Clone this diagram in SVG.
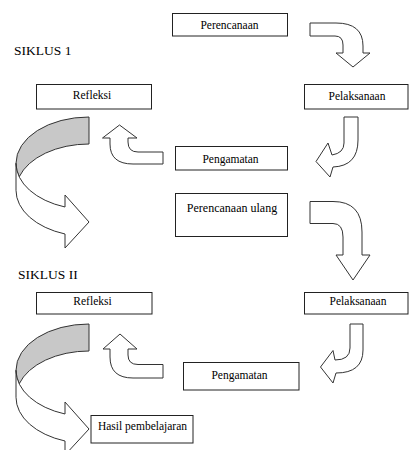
<svg xmlns="http://www.w3.org/2000/svg" width="409" height="450" viewBox="0 0 409 450">
<style>
.box{fill:#fff;stroke:#222;stroke-width:1}
.lbl{font-family:"Liberation Serif","Times New Roman",serif;font-size:11.5px;fill:#000;text-anchor:middle}
.title{font-family:"Liberation Serif","Times New Roman",serif;font-size:13.5px;fill:#000}
.arr{fill:#fff;stroke:#333;stroke-width:1;stroke-linejoin:round}
.back{fill:#c8c8c8;stroke:#333;stroke-width:1;stroke-linejoin:round}
</style>
<defs>
<g id="bigArrow">
<path class="back" d="M89,117 A73,46.3 0 0 0 16,163.3 A73,46.3 0 0 0 19.2,176.8 A73,46.3 0 0 1 89,144 Z"/>
<path class="arr" d="M16,163.3 A73,46.3 0 0 0 65,207 L65,195 L89,222 L65,248 L65,234 A73,46.3 0 0 1 16,190.3 Z"/>
</g>
</defs>
<text class="title" x="14" y="55">SIKLUS 1</text>
<text class="title" x="18" y="279">SIKLUS II</text>
<g id="perencanaan"><rect class="box" x="172.5" y="13.5" width="115" height="22.5"/><text class="lbl" x="229.5" y="28.5">Perencanaan</text></g>
<g id="refleksi1"><rect class="box" x="36.5" y="84.5" width="115" height="24.5"/><text class="lbl" x="92" y="99">Refleksi</text></g>
<g id="pelaksanaan1"><rect class="box" x="304.5" y="84.5" width="103.5" height="24.5"/><text class="lbl" x="357" y="99.5">Pelaksanaan</text></g>
<g id="pengamatan1"><rect class="box" x="175.5" y="146.5" width="112" height="23.5"/><text class="lbl" x="230.5" y="162.5">Pengamatan</text></g>
<g id="perencanaan-ulang"><rect class="box" x="175.5" y="193.5" width="112" height="43"/><text class="lbl" x="232" y="211.5" style="font-size:12px">Perencanaan ulang</text></g>
<g id="refleksi2"><rect class="box" x="36.5" y="292.5" width="115.5" height="21.5"/><text class="lbl" x="92.5" y="305">Refleksi</text></g>
<g id="pelaksanaan2"><rect class="box" x="304.5" y="292.5" width="103.5" height="21.5"/><text class="lbl" x="358" y="305">Pelaksanaan</text></g>
<g id="pengamatan2"><rect class="box" x="183.5" y="362.5" width="115.5" height="27.5"/><text class="lbl" x="239.5" y="378.5">Pengamatan</text></g>
<g id="hasil"><rect class="box" x="91" y="415.5" width="102" height="27.5"/><text class="lbl" x="142.5" y="430">Hasil pembelajaran</text></g>
<g id="connectors">
<path class="arr" d="M310,23 L336,23 Q363,23 363,46 L363,53 L370,53 L353,67 L336,53 L343,53 L343,45 Q343,36 335,36 L310,36 Z"/>
<path class="arr" d="M344,117 L358,117 L358,140 Q358,166 333,167 L330,177 L316,161.5 L328,143 L332,155 Q344,153 344,143 Z"/>
<path class="arr" d="M163,152 L138,152 Q128,152 128,142 L128,138 L137,138 L119.5,125 L102.5,138 L110,138 L110,144 Q110,164 133,164 L163,164 Z"/>
<use href="#bigArrow"/>
<path class="arr" d="M310,201.5 L333,201.5 Q362,201.5 362,232 L362,255 L370,255 L353,280 L336,255 L343,255 L343,237 Q343,223.5 333,223.5 L310,223.5 Z"/>
<path class="arr" d="M350,324 L363,324 L363,350 Q363,373 336,373 L333,383 L320.5,367 L333,350.5 L335,360 Q350,360 350,348 Z"/>
<path class="arr" d="M163,364.5 L138,364.5 Q128,364.5 128,355 L128,349 L137,349 L120,334 L103,349 L110,349 L110,357 Q110,378 133,378 L163,378 Z"/>
<use href="#bigArrow" transform="translate(0,207)"/>
</g>
</svg>
